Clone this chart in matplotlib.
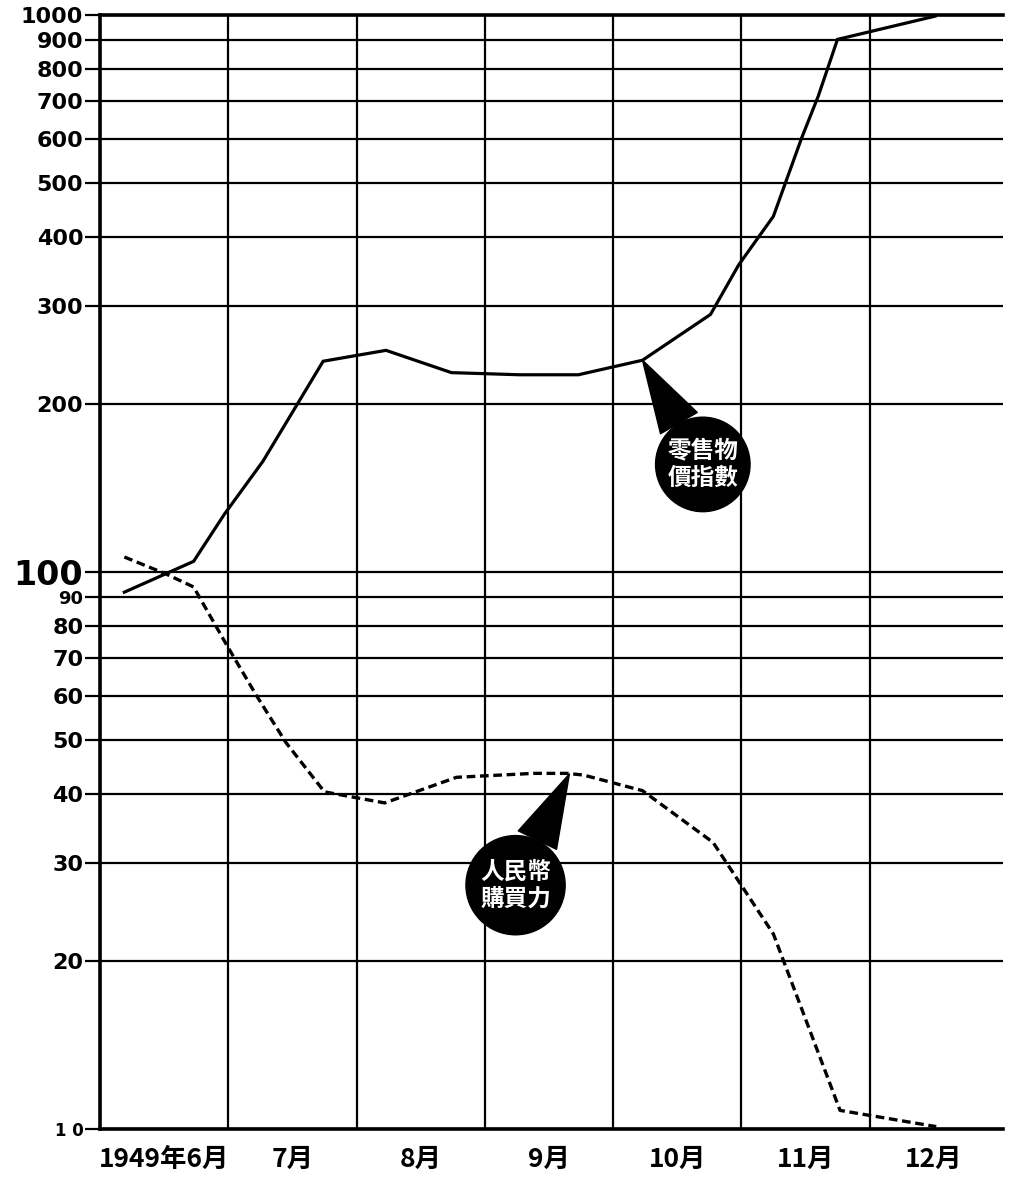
import numpy as np
import matplotlib
matplotlib.use("Agg")
import matplotlib.pyplot as plt
from matplotlib.ticker import FixedLocator, NullLocator

# x en mois depuis début juin 1949 (lignes verticales = débuts de mois)
prix_x = [0.19, 0.73, 0.97, 1.27, 1.74, 2.23, 2.74, 3.27, 3.73, 4.23,
          4.76, 4.98, 5.25, 5.47, 5.60, 5.75, 6.51]
prix_val = [92, 104.5, 127, 158, 239, 250, 228, 226, 226, 240,
            290, 356, 435, 601, 715, 904, 995]

pouvoir_x = [0.19, 0.51, 0.73, 0.99, 1.22, 1.45, 1.75, 2.22, 2.78, 3.38,
             3.64, 3.77, 4.23, 4.78, 5.25, 5.77, 6.52]
pouvoir_val = [106.4, 99.3, 94.0, 73.8, 60.0, 49.4, 40.3, 38.5, 42.8, 43.5,
               43.5, 43.2, 40.5, 32.7, 22.4, 10.8, 10.1]

mois = ["1949年6月", "7月", "8月", "9月", "10月", "11月", "12月"]
y_ticks = [10, 20, 30, 40, 50, 60, 70, 80, 90, 100,
           200, 300, 400, 500, 600, 700, 800, 900, 1000]
y_labels = ["1 0", "20", "30", "40", "50", "60", "70", "80", "90", "100",
            "200", "300", "400", "500", "600", "700", "800", "900", "1000"]

label_prix = "零售物\n價指數"
label_pouvoir = "人民幣\n購買力"

cjk = ["Noto Sans CJK SC", "DejaVu Sans"]

fig = plt.figure(figsize=(10.14, 11.8), dpi=100)
ax = fig.add_axes([0.0986, 0.0432, 0.8905, 0.9441])

ax.set_yscale("log")
ax.set_ylim(10, 1000)
ax.set_xlim(0, 7.04)

# grille
ax.yaxis.set_major_locator(FixedLocator(y_ticks))
ax.yaxis.set_minor_locator(NullLocator())
ax.set_yticklabels(y_labels)
ax.xaxis.set_major_locator(FixedLocator(range(0, 7)))
ax.xaxis.set_minor_locator(FixedLocator([i + 0.5 for i in range(7)]))
ax.set_xticklabels([], minor=False)
ax.set_xticklabels(mois, minor=True)
ax.grid(True, which="major", axis="both", color="black", linewidth=1.6)

ax.tick_params(axis="y", which="major", direction="out", length=11, width=1.6,
               pad=1)
ax.tick_params(axis="x", which="both", length=0, pad=12)

for lab in ax.get_yticklabels():
    lab.set_fontfamily("DejaVu Sans")
    lab.set_fontweight("bold")
    t = lab.get_text()
    if t == "100":
        lab.set_fontsize(24)
    elif t == "1 0":
        lab.set_fontsize(12)
    elif t == "90":
        lab.set_fontsize(13)
    else:
        lab.set_fontsize(16)

for lab in ax.get_xticklabels(minor=True):
    lab.set_fontfamily(["Liberation Sans Narrow", "Noto Sans CJK SC", "DejaVu Sans"])
    lab.set_fontweight("bold")
    lab.set_fontsize(19)

for s in ["left", "bottom", "top"]:
    ax.spines[s].set_linewidth(2.6)
ax.spines["right"].set_visible(False)

ax.plot(prix_x, prix_val, color="black", linewidth=2.3, solid_joinstyle="miter")
ax.plot(pouvoir_x, pouvoir_val, color="black", linewidth=2.4,
        linestyle=(0, (2.6, 1.4)))

# bulles noires
ax.annotate(label_prix, xy=(prix_x[9], prix_val[9]), xytext=(4.70, 156),
            ha="center", va="center", color="white", fontsize=17,
            fontweight="bold", family=cjk, linespacing=1.15,
            bbox=dict(boxstyle="circle,pad=0.5", fc="black", ec="black"),
            arrowprops=dict(arrowstyle="wedge,tail_width=1.8", fc="black",
                            ec="black", shrinkA=0, shrinkB=0))
ax.annotate(label_pouvoir, xy=(3.66, 43.4), xytext=(3.24, 27.4),
            ha="center", va="center", color="white", fontsize=17,
            fontweight="bold", family=cjk, linespacing=1.15,
            bbox=dict(boxstyle="circle,pad=0.6", fc="black", ec="black"),
            arrowprops=dict(arrowstyle="wedge,tail_width=1.8", fc="black",
                            ec="black", shrinkA=0, shrinkB=0))

fig.savefig("out.png", dpi=100)
